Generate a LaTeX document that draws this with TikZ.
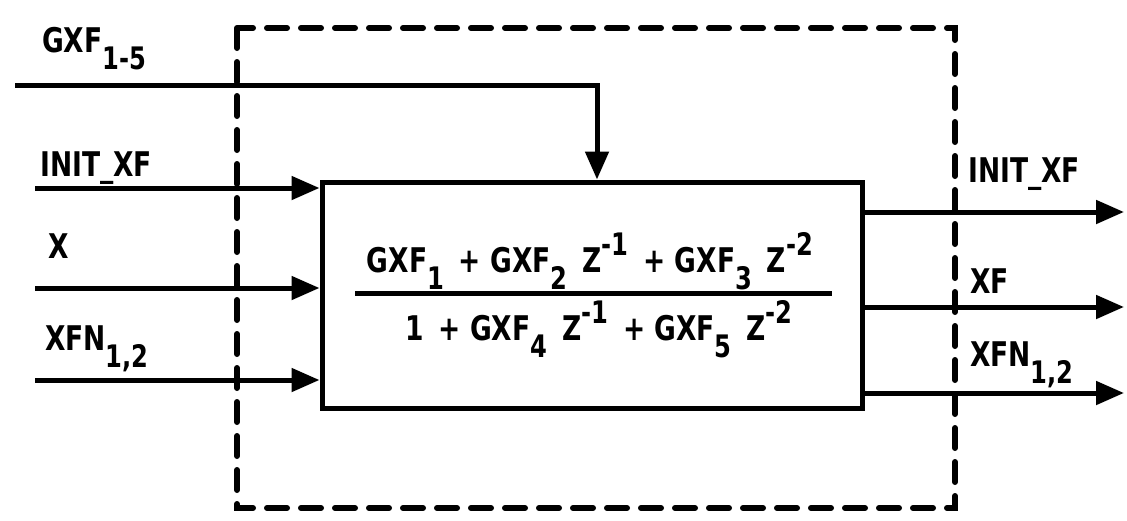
\documentclass[tikz,border=0pt]{standalone}
\usepackage{fontspec}
\setmainfont[FakeStretch=0.78]{DejaVu Sans}
\usetikzlibrary{arrows.meta}
\newcommand\dn[1]{\raisebox{-0.5em}{\fontsize{31}{31}\selectfont #1}}
\newcommand\upx[1]{\raisebox{0.5em}{\fontsize{31}{31}\selectfont #1}}
\begin{document}
\begin{tikzpicture}[x=1pt,y=-1pt,
  wire/.style={line width=5pt},
  arr/.style={wire,-{Triangle[length=28pt,width=23pt]}},
  lbl/.style={anchor=base west,inner sep=0pt,font=\fontsize{34}{34}\selectfont\bfseries},
  frac/.style={anchor=base,inner sep=0pt,font=\fontsize{34}{34}\selectfont\bfseries},
  blk/.style={draw,line width=5pt,minimum width=540pt,minimum height=226pt,inner sep=0pt},
  bound/.style={line width=6pt,line cap=round,dash pattern=on 20pt off 14pt}]
\useasboundingbox (0,0) rectangle (1127,520);
% dashed boundary
\draw[bound] (237,28) rectangle (955,508);
% main block
\node[blk] (box) at (592,295) {};
% fraction
\node[frac] (num) at (590,272) {GXF\dn{1} \,+ GXF\dn{2}\, Z\upx{-1} \,+ GXF\dn{3}\, Z\upx{-2}};
\coordinate (fl) at (355,293);
\coordinate (fr) at (832,293);
\draw[wire] (fl) -- (fr);
\node[frac] (den) at (599,340) {1 \,+ GXF\dn{4}\, Z\upx{-1} \,+ GXF\dn{5}\, Z\upx{-2}};
% inputs
\coordinate (g0) at (15,85);
\coordinate (g1) at (597,0);
\draw[arr] (g0) -| (g1 |- box.north);
\coordinate (i1) at (35,188);
\coordinate (i2) at (35,288);
\coordinate (i3) at (35,380);
\draw[arr] (i1) -- (i1 -| box.west);
\draw[arr] (i2) -- (i2 -| box.west);
\draw[arr] (i3) -- (i3 -| box.west);
% outputs
\coordinate (o1) at (1124,212);
\coordinate (o2) at (1124,307);
\coordinate (o3) at (1124,393);
\draw[arr] (o1 -| box.east) -- (o1);
\draw[arr] (o2 -| box.east) -- (o2);
\draw[arr] (o3 -| box.east) -- (o3);
% labels
\node[lbl] (lg) at (42,52) {GXF\dn{1-5}};
\node[lbl] (li1) at (40,176) {INIT\_XF};
\node[lbl] (li2) at (48,258) {X};
\node[lbl] (li3) at (45,350) {XFN\dn{1,2}};
\node[lbl] (lo1) at (968,182) {INIT\_XF};
\node[lbl] (lo2) at (970,293) {XF};
\node[lbl] (lo3) at (970,366) {XFN\dn{1,2}};
\end{tikzpicture}
\end{document}
